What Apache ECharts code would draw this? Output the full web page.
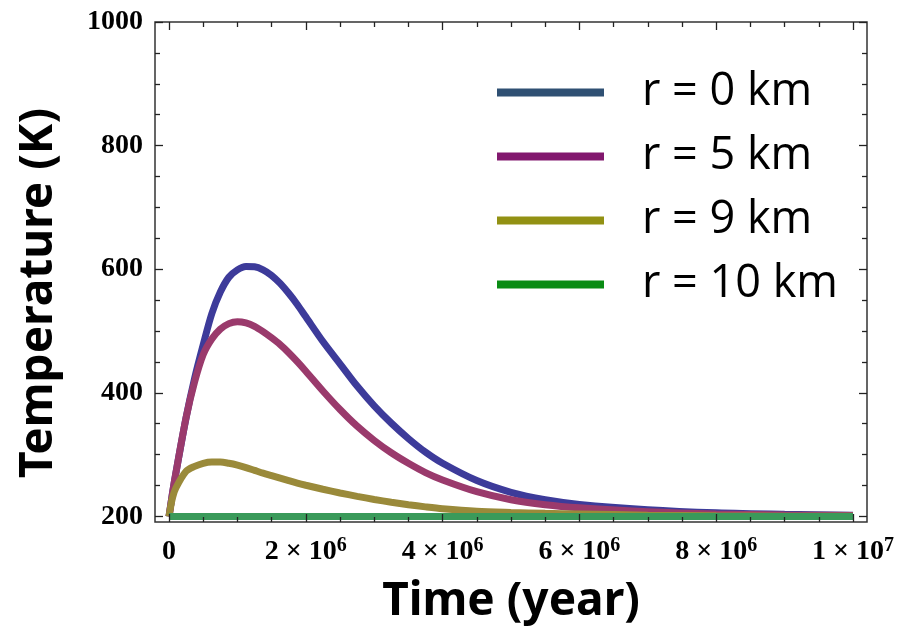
<!DOCTYPE html>
<html>
<head>
    <meta charset="utf-8">
    <title>Temperature vs time</title>
    <script src="https://cdn.jsdelivr.net/npm/echarts@6/dist/echarts.min.js"></script>
    <style>
        html, body { margin: 0; padding: 0; background: #fff; }
    </style>
</head>
<body>
<div id="chart-container" style="width: 899px; height: 636px;"></div>
<script>
    // time in units of 1e6 years
    var times = [0, 0.05, 0.1, 0.25, 0.375, 0.5, 0.625, 0.75, 0.875, 1.0, 1.125, 1.25, 1.375, 1.5,
        1.625, 1.75, 1.875, 2.0, 2.25, 2.5, 2.75, 3.0, 3.25, 3.5, 3.75, 4.0,
        4.5, 5.0, 5.5, 6.0, 7.0, 8.0, 9.0, 10.0];

    // temperature (K)
    var r0 = [200, 237, 270, 360, 424, 478, 528, 563, 587, 599, 604.5, 604, 599, 590,
        577, 561, 543, 523, 483, 447, 411, 379, 351, 326, 304, 286,
        258, 239, 227, 219.5, 211, 206, 203.5, 202];
    var r5 = [200, 237, 270, 360, 418, 462, 487, 503, 512, 515, 513, 507.5, 499, 489,
        478, 465, 450.5, 435, 403, 373, 346, 323, 303, 286, 271, 259,
        240, 227, 219, 214, 207.5, 204, 202.5, 201.5];
    var r9 = [200, 230, 246, 273, 281, 286, 288, 288, 286, 283, 279, 274.5, 270, 266,
        262, 258, 254, 250.5, 244, 238, 232.5, 227.5, 223, 219, 215.5, 212.5,
        208.5, 206.5, 205, 204, 202, 201, 200.5, 200.3];
    var r10 = [200, 200, 200, 200, 200, 200, 200, 200, 200, 200, 200, 200, 200, 200,
        200, 200, 200, 200, 200, 200, 200, 200, 200, 200, 200, 200,
        200, 200, 200, 200, 200, 200, 200, 200];

    var seriesNames = ['r = 0 km', 'r = 5 km', 'r = 9 km', 'r = 10 km'];
    var lineColors = ['#3d3b9a', '#9a3a6c', '#9a8a3a', '#3a9a5a'];
    var legendColors = ['#2f5073', '#82186e', '#929113', '#0a8c14'];

    // ticks
    var xMajor = [0, 2e6, 4e6, 6e6, 8e6, 1e7];
    var xMinor = [5e5, 1e6, 1.5e6, 2.5e6, 3e6, 3.5e6, 4.5e6, 5e6, 5.5e6, 6.5e6, 7e6, 7.5e6, 8.5e6, 9e6, 9.5e6];
    var xTickBase = ['0', '2 × 10', '4 × 10', '6 × 10', '8 × 10', '1 × 10'];
    var xTickExp = ['', '6', '6', '6', '6', '7'];
    var yMajor = [200, 400, 600, 800, 1000];
    var yMinor = [250, 300, 350, 450, 500, 550, 650, 700, 750, 850, 900, 950];

    function pairs(ys) {
        return times.map(function (t, i) { return [t * 1e6, ys[i]]; });
    }

    var tickFont = 'Liberation Serif';
    var titleFont = 'Noto Sans';
    var tickStyle = { color: '#222', width: 1.3 };

    var X_MIN = -2.05e5, X_MAX = 1.0205e7, Y_MIN = 191, Y_MAX = 1000;

    function xAxisDef(pos, values, len, withLabels) {
        var ax = {
            type: 'value', position: pos, min: X_MIN, max: X_MAX, z: 10,
            axisLine: { show: false, onZero: false },
            splitLine: { show: false },
            axisTick: { inside: true, length: len, customValues: values, lineStyle: tickStyle },
            axisLabel: { show: false }
        };
        if (withLabels) {
            ax.axisLabel = {
                show: true,
                customValues: xMajor,
                margin: 14,
                formatter: function (v) {
                    var i = xMajor.indexOf(v);
                    if (i < 0) return '';
                    if (xTickExp[i] === '') return '{a|' + xTickBase[i] + '}';
                    return '{a|' + xTickBase[i] + '}{s|' + xTickExp[i] + '}';
                },
                rich: {
                    a: { fontFamily: tickFont, fontWeight: 'bold', fontSize: 28, color: '#000', lineHeight: 32 },
                    s: { fontFamily: tickFont, fontWeight: 'bold', fontSize: 20, color: '#000', verticalAlign: 'top', lineHeight: 16 }
                }
            };
            ax.name = 'Time (year)';
            ax.nameLocation = 'middle';
            ax.nameGap = 57;
            ax.nameTextStyle = { fontFamily: titleFont, fontWeight: 'bold', fontSize: 46, color: '#000' };
        }
        return ax;
    }

    function yAxisDef(pos, values, len, withLabels) {
        var ax = {
            type: 'value', position: pos, min: Y_MIN, max: Y_MAX, z: 10,
            axisLine: { show: false, onZero: false },
            splitLine: { show: false },
            axisTick: { inside: true, length: len, customValues: values, lineStyle: tickStyle },
            axisLabel: { show: false }
        };
        if (withLabels) {
            ax.axisLabel = {
                show: true,
                customValues: yMajor,
                margin: 12,
                formatter: function (v) { return String(v); },
                fontFamily: tickFont, fontWeight: 'bold', fontSize: 28, color: '#000'
            };
        }
        return ax;
    }

    var option = {
        animation: false,
        backgroundColor: '#fff',
        grid: {
            left: 155, right: 32, top: 22, bottom: 114,
            show: true, borderColor: '#333', borderWidth: 1.5, backgroundColor: 'transparent'
        },
        graphic: [{
            type: 'text',
            x: 39,
            y: 293,
            rotation: Math.PI / 2,
            style: {
                text: 'Temperature (K)',
                fontFamily: titleFont,
                fontWeight: 'bold',
                fontSize: 46,
                fill: '#000',
                align: 'center',
                verticalAlign: 'middle'
            }
        }],
        legend: {
            orient: 'vertical',
            left: 497,
            top: 70,
            padding: 0,
            icon: 'rect',
            itemWidth: 107,
            itemHeight: 8,
            itemGap: 19,
            textStyle: {
                fontFamily: 'Open Sans',
                fontSize: 45,
                lineHeight: 45,
                color: '#000',
                padding: [0, 0, 0, 33]
            },
            data: seriesNames.map(function (n, i) {
                return { name: n, itemStyle: { color: legendColors[i] } };
            })
        },
        xAxis: [
            xAxisDef('bottom', xMajor, 8, true),
            xAxisDef('bottom', xMinor, 5, false),
            xAxisDef('top', xMajor, 8, false),
            xAxisDef('top', xMinor, 5, false)
        ],
        yAxis: [
            yAxisDef('left', yMajor, 8, true),
            yAxisDef('left', yMinor, 5, false),
            yAxisDef('right', yMajor, 8, false),
            yAxisDef('right', yMinor, 5, false)
        ],
        series: [r0, r5, r9, r10].map(function (ys, i) {
            return {
                name: seriesNames[i],
                type: 'line',
                data: pairs(ys),
                smooth: 0.3,
                symbol: 'none',
                lineStyle: { color: lineColors[i], width: 7 },
                itemStyle: { color: lineColors[i] }
            };
        })
    };

    var chart = echarts.init(document.getElementById('chart-container'));
    chart.setOption(option);
</script>
</body>
</html>
